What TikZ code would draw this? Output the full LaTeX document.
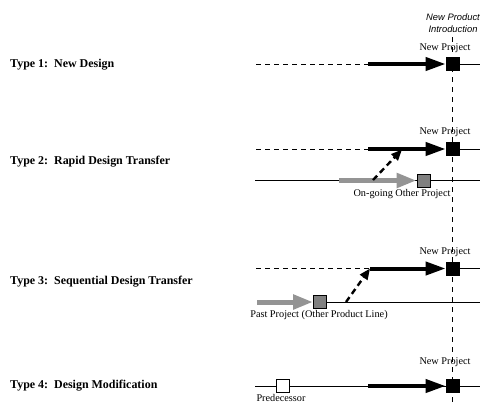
\documentclass[tikz,border=0pt]{standalone}
\usepackage{fontspec}
\setmainfont{Liberation Serif}
\newfontfamily\introfont{Liberation Sans}
\usetikzlibrary{arrows.meta}
\begin{document}
\begin{tikzpicture}[x=1bp,y=-1bp,
  thinline/.style={line width=0.8bp},
  dashline/.style={line width=0.8bp, dash pattern=on 4.5bp off 4.5bp},
  bigarrow/.style={line width=4bp, -{Triangle[length=20bp,width=13bp]}},
  grayarrow/.style={line width=5bp, draw=black!42, -{Triangle[length=20bp,width=14bp]}},
  transfer/.style={line width=2.4bp, dash pattern=on 6bp off 4bp, -{Triangle[length=11bp,width=9bp]}},
  sq/.style={draw=black, line width=0.8bp, minimum size=13bp, inner sep=0pt},
  blacksq/.style={sq, fill=black},
  graysq/.style={sq, fill=black!50},
  whitesq/.style={sq, fill=white},
  typelabel/.style={anchor=west, font=\fontsize{12}{14}\selectfont\bfseries, inner sep=0pt},
  small/.style={font=\fontsize{10.3}{12}\selectfont, inner sep=0pt},
  intro/.style={font=\fontsize{9.4}{12}\selectfont\introfont\itshape, inner sep=0pt, align=center}
]
\useasboundingbox (0,0) rectangle (481,403);

% introduction marker
\node[intro] (intro) at (453,23) {New Product\\Introduction};
\coordinate (vtop) at (452.5,37);
\coordinate (vbot) at (452.5,403);
\draw[line width=0.8bp, dash pattern=on 5bp off 5bp] (vtop) -- (vbot);

% ---------- Type 1
\node[typelabel] (t1) at (10,64.5) {Type 1:\ \ New Design};
\coordinate (s1) at (256,64);
\coordinate (a1) at (368,64);
\coordinate (e1) at (480,64);
\node[blacksq] (np1) at (452.5,64) {};
\node[small] (l1) at (445,48) {New Project};
\draw[dashline] (s1) -- (a1);
\draw[bigarrow] (a1) -- (np1.west);
\draw[thinline] (np1.east) -- (e1);

% ---------- Type 2
\node[typelabel] (t2) at (10,161.5) {Type 2:\ \ Rapid Design Transfer};
\coordinate (s2) at (256,149);
\coordinate (a2) at (368,149);
\coordinate (e2) at (480,149);
\node[blacksq] (np2) at (452.5,149) {};
\node[small] (l2) at (445,132.5) {New Project};
\draw[dashline] (s2) -- (a2);
\draw[bigarrow] (a2) -- (np2.west);
\draw[thinline] (np2.east) -- (e2);

\coordinate (s2b) at (255,180.5);
\coordinate (g2) at (339,180.5);
\coordinate (e2b) at (480,180.5);
\node[graysq] (og) at (423.5,180.5) {};
\node[small] (l2b) at (402,194.5) {On-going Other Project};
\draw[thinline] (s2b) -- (og.west);
\draw[thinline] (og.east) -- (e2b);
\draw[grayarrow] (g2) -- (og.west);
\coordinate (d2s) at (373,180);
\coordinate (d2e) at (402,149.5);
\draw[transfer] (d2s) -- (d2e);

% ---------- Type 3
\node[typelabel] (t3) at (10,281.5) {Type 3:\ \ Sequential Design Transfer};
\coordinate (s3) at (256,268.5);
\coordinate (a3) at (370,268.5);
\coordinate (e3) at (480,268.5);
\node[blacksq] (np3) at (452.5,268.5) {};
\node[small] (l3) at (445,252) {New Project};
\draw[dashline] (s3) -- (a3);
\draw[bigarrow] (a3) -- (np3.west);
\draw[thinline] (np3.east) -- (e3);

\coordinate (g3) at (257,302);
\coordinate (e3b) at (480,302);
\node[graysq] (pp) at (320,302) {};
\node[small] (l3b) at (319,315.5) {Past Project (Other Product Line)};
\draw[grayarrow] (g3) -- (pp.west);
\draw[thinline] (pp.east) -- (e3b);
\coordinate (d3s) at (346,302);
\draw[transfer] (d3s) -- (a3);

% ---------- Type 4
\node[typelabel] (t4) at (10,386) {Type 4:\ \ Design Modification};
\coordinate (s4) at (255,386);
\coordinate (a4) at (368,386);
\coordinate (e4) at (480,386);
\node[whitesq] (pred) at (283,386) {};
\node[blacksq] (np4) at (452.5,386) {};
\node[small] (l4) at (445,362.5) {New Project};
\node[small, anchor=base] (l4b) at (281,401.5) {Predecessor};
\draw[thinline] (s4) -- (pred.west);
\draw[thinline] (pred.east) -- (np4.west);
\draw[bigarrow] (a4) -- (np4.west);
\draw[thinline] (np4.east) -- (e4);
\end{tikzpicture}
\end{document}
